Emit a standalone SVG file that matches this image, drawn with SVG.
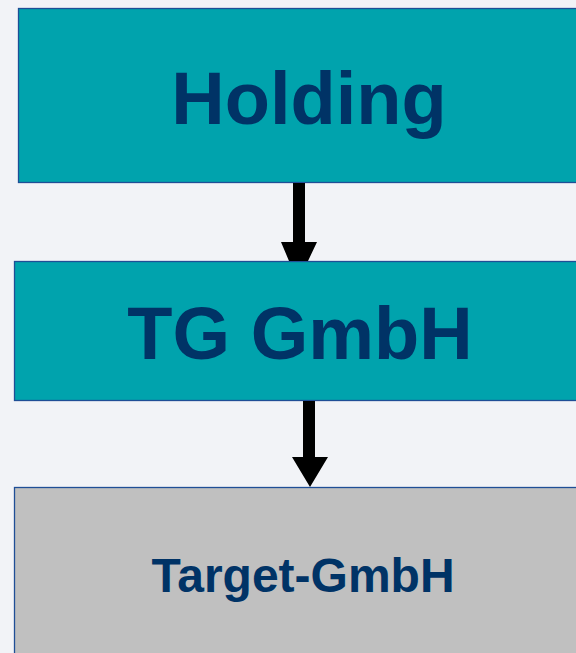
<svg xmlns="http://www.w3.org/2000/svg" width="576" height="653" viewBox="0 0 576 653">
<style>
.box{stroke:#1F4E96;stroke-width:1.3}
.teal{fill:#00A3AD}
.gray{fill:#C0C0C0}
.lbl{font-family:"Liberation Sans",Arial,sans-serif;font-weight:bold;fill:#003366;text-anchor:middle}
.arrow{fill:#000}
</style>
<rect width="576" height="653" fill="#F2F3F7"/>
<g id="holding">
<rect class="box teal" x="18.5" y="8.5" width="570" height="174"/>
<text class="lbl" x="309" y="124" font-size="74">Holding</text>
</g>
<g id="tg-gmbh">
<rect class="box teal" x="14.5" y="261.5" width="574" height="139"/>
<text class="lbl" x="300" y="359" font-size="74">TG GmbH</text>
</g>
<g id="target-gmbh">
<rect class="box gray" x="14.5" y="487.5" width="574" height="180"/>
<text class="lbl" x="303" y="592" font-size="48">Target-GmbH</text>
</g>
<g id="connectors">
<path class="arrow" d="M293 183 H305 V242 H317 L308 261 H289 L281 242 H293 Z"/>
<path class="arrow" d="M303 401 H315 V457 H328 L310 487 L292 457 H303 Z"/>
</g>
</svg>
